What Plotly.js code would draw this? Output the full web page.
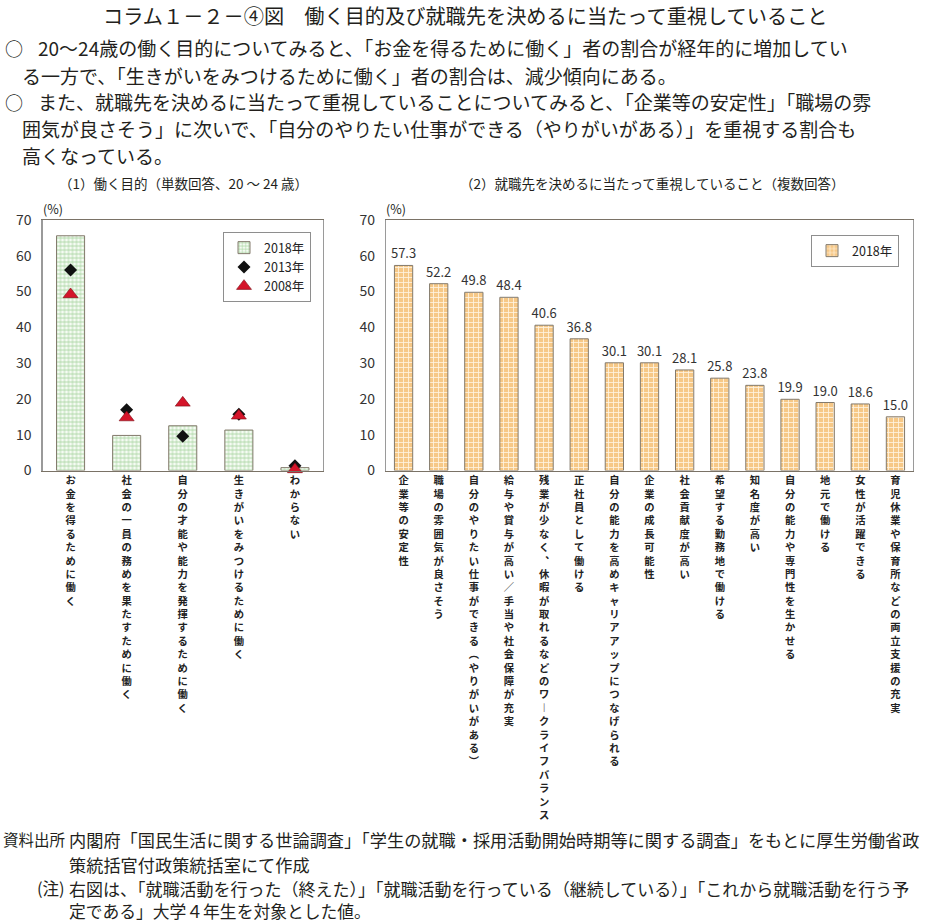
<!DOCTYPE html>
<html>
<head>
<meta charset="utf-8">
<script src="https://cdn.plot.ly/plotly-3.0.1.min.js"></script>
<style>html,body{margin:0;padding:0;background:#fff;}#chart{width:933px;height:922px;}</style>
</head>
<body>
<div id="chart"></div>
<script>
// ---- data ----
const purposeCategories = ["お金を得るために働く","社会の一員の務めを果たすために働く","自分の才能や能力を発揮するために働く","生きがいをみつけるために働く","わからない"];
const purpose2018 = [65.6, 9.8, 12.5, 11.3, 0.8];
const purpose2013 = [56.0, 17.0, 9.6, 15.7, 1.3];
const purpose2008 = [49.2, 14.8, 18.9, 15.3, 0.3];

const jobCategories = ["企業等の安定性","職場の雰囲気が良さそう","自分のやりたい仕事ができる（やりがいがある）","給与や賞与が高い／手当や社会保障が充実","残業が少なく、休暇が取れるなどのワークライフバランス","正社員として働ける","自分の能力を高めキャリアアップにつなげられる","企業の成長可能性","社会貢献度が高い","希望する勤務地で働ける","知名度が高い","自分の能力や専門性を生かせる","地元で働ける","女性が活躍できる","育児休業や保育所などの両立支援の充実"];
const job2018 = [57.3, 52.2, 49.8, 48.4, 40.6, 36.8, 30.1, 30.1, 28.1, 25.8, 23.8, 19.9, 19.0, 18.6, 15.0];

const yTicks = [0, 10, 20, 30, 40, 50, 60, 70];
const seriesNames = ["2018年", "2013年", "2008年"];

// ---- helpers ----
const W = 933, H = 922;
const px = x => x / W;
const py = y => 1 - y / H;
const FONT = '"Noto Sans CJK JP", "Noto Sans", sans-serif';
const vmap = {"（":"︵","）":"︶","ー":"︱","、":"︑"};
const vert = s => Array.from(s).map(c => vmap[c] || c).join("<br>");

const traces = [
  {type:"bar", x:purposeCategories, y:purpose2018, name:seriesNames[0], width:0.5,
   xaxis:"x", yaxis:"y", legend:"legend",
   marker:{color:"#eaf5e7", line:{color:"#837a6c", width:1},
     pattern:{shape:"+", fgcolor:"#a6d39d", bgcolor:"#f6fbf4", size:4, solidity:0.35}},
   hoverinfo:"x+y"},
  {type:"scatter", mode:"markers", x:purposeCategories, y:purpose2013, name:seriesNames[1],
   xaxis:"x", yaxis:"y", legend:"legend", cliponaxis:false,
   marker:{symbol:"diamond", size:10, color:"#111"}},
  {type:"scatter", mode:"markers", x:purposeCategories, y:purpose2008, name:seriesNames[2],
   xaxis:"x", yaxis:"y", legend:"legend", cliponaxis:false,
   marker:{symbol:"triangle-up", size:13, color:"#d4152a", line:{color:"#7a0a12", width:0.6}}},
  {type:"bar", x:jobCategories, y:job2018, name:seriesNames[0], width:0.52,
   xaxis:"x2", yaxis:"y2", legend:"legend2",
   text:job2018.map(v => v.toFixed(1)), textposition:"outside", cliponaxis:false,
   textfont:{family:FONT, size:13, color:"#333"}, constraintext:"none",
   marker:{color:"#f8d29a", line:{color:"#837a6c", width:1},
     pattern:{shape:"+", fgcolor:"#fff4e2", bgcolor:"#f6c887", size:5, solidity:0.3}}}
];

const yDom = [py(470.5), py(220)];
const yaxisBase = {range:[0,70], tickvals:yTicks, showgrid:false, zeroline:false,
  showline:true, mirror:true, linecolor:"#9a9a9a", linewidth:1.2, ticks:"",
  ticklabelstandoff:7, tickfont:{family:FONT, size:14, color:"#333"}, fixedrange:true};
const xaxisBase = {type:"category", showgrid:false, zeroline:false, showline:true, mirror:true,
  linecolor:"#7a7266", linewidth:1.3, ticks:"", tickangle:0,
  tickfont:{family:FONT, size:10.3, color:"#222", weight:"bold"}, fixedrange:true};

const ann = [];
const addText = (text, x, y, size, opts={}) => ann.push(Object.assign({
  text, x:px(x), y:py(y), xref:"paper", yref:"paper", showarrow:false, borderpad:0,
  xanchor:"left", yanchor:"middle", font:{family:FONT, size, color:"#231f1c"}}, opts));

addText("コラム１－２－④図　働く目的及び就職先を決めるに当たって重視していること", 465, 15, 20.2, {xanchor:"center"});
addText("○", 4, 48, 18);
addText("20～24歳の働く目的についてみると、「お金を得るために働く」者の割合が経年的に増加してい", 37, 48, 19);
addText("る一方で、「生きがいをみつけるために働く」者の割合は、減少傾向にある。", 21, 75, 19);
addText("○", 4, 101.5, 18);
addText("また、就職先を決めるに当たって重視していることについてみると、「企業等の安定性」「職場の雰", 37, 101.5, 19);
addText("囲気が良さそう」に次いで、「自分のやりたい仕事ができる（やりがいがある）」を重視する割合も", 21, 128.5, 19);
addText("高くなっている。", 21, 155, 19);

addText("（1）働く目的（単数回答、20 ～ 24 歳）", 183, 183, 13.5, {xanchor:"center"});
addText("（2）就職先を決めるに当たって重視していること（複数回答）", 652, 183, 13.5, {xanchor:"center"});
addText("(%)", 42, 208, 12.5);
addText("(%)", 385, 208, 12.5);

addText("資料出所", 2, 839, 15.5);
addText("内閣府「国民生活に関する世論調査」「学生の就職・採用活動開始時期等に関する調査」をもとに厚生労働省政", 68, 839, 17.2);
addText("策統括官付政策統括室にて作成", 68, 864, 17.2);
addText("(注)", 36, 888, 16.5);
addText("右図は、「就職活動を行った（終えた）」「就職活動を行っている（継続している）」「これから就職活動を行う予", 68, 888, 17);
addText("定である」大学４年生を対象とした値。", 68, 911, 16.8);

const layout = {
  width:W, height:H, autosize:false,
  margin:{l:0, r:0, t:0, b:0, pad:0},
  paper_bgcolor:"#fff", plot_bgcolor:"#fff",
  font:{family:FONT, color:"#222"},
  barmode:"overlay",
  xaxis:Object.assign({}, xaxisBase, {domain:[px(42.5), px(323)], anchor:"y", range:[-0.5,4.5],
    tickvals:purposeCategories, ticktext:purposeCategories.map(vert)}),
  yaxis:Object.assign({}, yaxisBase, {domain:yDom, anchor:"x"}),
  xaxis2:Object.assign({}, xaxisBase, {domain:[px(386), px(913)], anchor:"y2", range:[-0.5,14.5],
    tickvals:jobCategories, ticktext:jobCategories.map(vert)}),
  yaxis2:Object.assign({}, yaxisBase, {domain:yDom, anchor:"x2"}),
  legend:{x:px(311), y:py(232), xanchor:"right", yanchor:"top", xref:"paper", yref:"paper",
    bgcolor:"#fff", bordercolor:"#8e8e8e", borderwidth:1, font:{family:FONT, size:12.5, color:"#222"},
    itemwidth:30, tracegroupgap:0},
  legend2:{x:px(899), y:py(235), xanchor:"right", yanchor:"top", xref:"paper", yref:"paper",
    bgcolor:"#fff", bordercolor:"#8e8e8e", borderwidth:1, font:{family:FONT, size:12.5, color:"#222"},
    itemwidth:30},
  showlegend:true,
  annotations:ann
};

Plotly.newPlot("chart", traces, layout, {displayModeBar:false, staticPlot:true});
</script>
</body>
</html>
